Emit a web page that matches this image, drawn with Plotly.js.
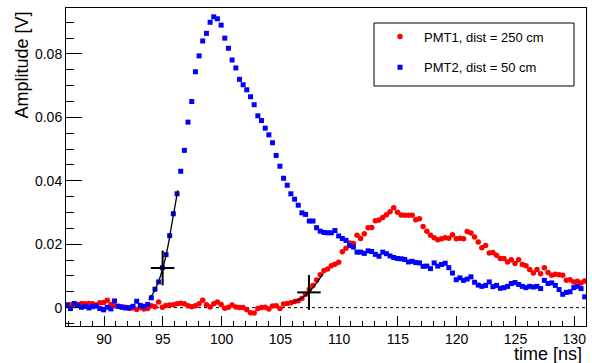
<!DOCTYPE html>
<html>
<head>
<meta charset="utf-8">
<script src="https://cdn.plot.ly/plotly-3.0.1.min.js"></script>
<style>
html,body{margin:0;padding:0;background:#fff;}
#chart{width:592px;height:363px;}
</style>
</head>
<body>
<div id="chart"></div>
<script>
// sampling times [ns]
const time_ns = [
 86.83, 87.14, 87.46, 87.77, 88.08, 88.39, 88.71, 89.02, 89.33, 89.64,
 89.96, 90.27, 90.58, 90.89, 91.21, 91.52, 91.83, 92.14, 92.46, 92.77,
 93.08, 93.39, 93.71, 94.02, 94.33, 94.64, 94.96, 95.27, 95.58, 95.89,
 96.21, 96.52, 96.83, 97.14, 97.46, 97.77, 98.08, 98.39, 98.71, 99.02,
 99.33, 99.64, 99.96, 100.27, 100.58, 100.89, 101.21, 101.52, 101.83, 102.14,
 102.46, 102.77, 103.08, 103.39, 103.71, 104.02, 104.33, 104.64, 104.96, 105.27,
 105.58, 105.89, 106.21, 106.52, 106.83, 107.14, 107.46, 107.77, 108.08, 108.39,
 108.71, 109.02, 109.33, 109.64, 109.96, 110.27, 110.58, 110.89, 111.21, 111.52,
 111.83, 112.14, 112.46, 112.77, 113.08, 113.39, 113.71, 114.02, 114.33, 114.64,
 114.96, 115.27, 115.58, 115.89, 116.21, 116.52, 116.83, 117.14, 117.46, 117.77,
 118.08, 118.39, 118.71, 119.02, 119.33, 119.64, 119.96, 120.27, 120.58, 120.89,
 121.21, 121.52, 121.83, 122.14, 122.46, 122.77, 123.08, 123.39, 123.71, 124.02,
 124.33, 124.64, 124.96, 125.27, 125.58, 125.89, 126.21, 126.52, 126.83, 127.14,
 127.46, 127.77, 128.08, 128.39, 128.71, 129.02, 129.33, 129.64, 129.96, 130.27,
 130.58, 130.89
];

// PMT1, dist = 250 cm (red)
const pmt1_amp = [
 0.0007, 0.0009, 0.0009, 0.0010, 0.0013, 0.0012, 0.0013, 0.0012, 0.0008, 0.0015,
 0.0016, 0.0023, 0.0010, 0.0006, 0.0004, 0.0003, 0.0001, -0.0003, -0.0001, -0.0006,
 0.0000, -0.0004, -0.0003, 0.0006, 0.0003, 0.0018, 0.0001, 0.0007, 0.0008, 0.0009,
 0.0012, 0.0014, 0.0012, 0.0006, 0.0003, 0.0006, 0.0012, 0.0023, 0.0009, 0.0002,
 0.0012, 0.0018, 0.0010, -0.0002, 0.0001, 0.0008, 0.0002, 0.0000, 0.0000, -0.0007,
 -0.0016, -0.0017, -0.0003, 0.0000, 0.0001, -0.0004, 0.0005, 0.0006, -0.0003, 0.0011,
 0.0013, 0.0015, 0.0019, 0.0022, 0.0029, 0.0042, 0.0058, 0.0070, 0.0087, 0.0104,
 0.0117, 0.0122, 0.0132, 0.0137, 0.0143, 0.0176, 0.0187, 0.0204, 0.0202, 0.0228,
 0.0218, 0.0233, 0.0252, 0.0253, 0.0274, 0.0276, 0.0284, 0.0293, 0.0302, 0.0315,
 0.0301, 0.0292, 0.0291, 0.0291, 0.0291, 0.0277, 0.0280, 0.0256, 0.0241, 0.0228,
 0.0220, 0.0214, 0.0217, 0.0220, 0.0219, 0.0230, 0.0217, 0.0219, 0.0217, 0.0240,
 0.0235, 0.0223, 0.0207, 0.0189, 0.0196, 0.0172, 0.0174, 0.0165, 0.0155, 0.0155,
 0.0144, 0.0151, 0.0139, 0.0151, 0.0136, 0.0132, 0.0120, 0.0109, 0.0120, 0.0107,
 0.0126, 0.0111, 0.0102, 0.0105, 0.0104, 0.0102, 0.0086, 0.0088, 0.0081, 0.0083,
 0.0078, 0.0084
];

// PMT2, dist = 50 cm (blue)
const pmt2_amp = [
 0.0009, -0.0003, 0.0013, 0.0006, 0.0001, 0.0004, -0.0001, 0.0003, 0.0005, -0.0003,
 -0.0007, 0.0001, -0.0004, 0.0021, 0.0004, 0.0001, -0.0001, 0.0000, 0.0004, 0.0020,
 0.0007, 0.0004, 0.0010, 0.0031, 0.0058, 0.0081, 0.0126, 0.0167, 0.0227, 0.0296,
 0.0359, 0.0430, 0.0496, 0.0585, 0.0650, 0.0744, 0.0794, 0.0841, 0.0865, 0.0900,
 0.0917, 0.0911, 0.0891, 0.0850, 0.0818, 0.0781, 0.0756, 0.0720, 0.0703, 0.0687,
 0.0665, 0.0640, 0.0605, 0.0590, 0.0566, 0.0545, 0.0520, 0.0480, 0.0446, 0.0408,
 0.0386, 0.0359, 0.0342, 0.0323, 0.0299, 0.0294, 0.0273, 0.0273, 0.0252, 0.0241,
 0.0237, 0.0236, 0.0236, 0.0243, 0.0226, 0.0218, 0.0212, 0.0196, 0.0191, 0.0175,
 0.0175, 0.0171, 0.0179, 0.0177, 0.0168, 0.0162, 0.0175, 0.0170, 0.0163, 0.0158,
 0.0155, 0.0154, 0.0152, 0.0144, 0.0146, 0.0142, 0.0141, 0.0130, 0.0131, 0.0123,
 0.0141, 0.0131, 0.0136, 0.0140, 0.0126, 0.0109, 0.0088, 0.0094, 0.0086, 0.0090,
 0.0097, 0.0080, 0.0071, 0.0067, 0.0070, 0.0081, 0.0066, 0.0070, 0.0061, 0.0063,
 0.0067, 0.0076, 0.0079, 0.0073, 0.0067, 0.0063, 0.0067, 0.0065, 0.0067, 0.0060,
 0.0086, 0.0076, 0.0078, 0.0070, 0.0057, 0.0042, 0.0048, 0.0050, 0.0063, 0.0067,
 0.0060, 0.0034
];

// leading-edge fits
const fit2_t = [93.8, 94.2, 94.6, 95.0, 95.4, 95.8, 96.27];
const fit2_v = [0.0025, 0.0047, 0.0079, 0.0125, 0.0188, 0.0272, 0.0370];
const fit1_t = [106.0, 106.5, 107.0, 107.43, 108.0, 108.65];
const fit1_v = [0.0015, 0.0024, 0.0035, 0.0049, 0.0074, 0.0108];

// timing points (crosses) with their half-widths
const cross_t = [94.98, 107.43];
const cross_v = [0.0125, 0.0048];
const cross_dt = [1.0, 1.0];
const cross_dv = [0.0055, 0.0055];

const legendNames = ['PMT1, dist = 250 cm', 'PMT2, dist = 50 cm'];

const FONT = 'Liberation Sans, Arial, Helvetica, sans-serif';

const traces = [
  {x: time_ns, y: pmt1_amp, type: 'scatter', mode: 'markers', name: legendNames[0],
   legendgroup: 'a', marker: {symbol: 'circle', size: 5.5, color: '#ff0000'}},
  {x: time_ns, y: pmt2_amp, type: 'scatter', mode: 'markers', name: legendNames[1],
   legendgroup: 'b', marker: {symbol: 'square', size: 5, color: '#0000ff'}},
  {x: fit2_t, y: fit2_v, type: 'scatter', mode: 'lines', showlegend: false,
   line: {color: '#000', width: 1.3, shape: 'spline'}},
  {x: fit1_t, y: fit1_v, type: 'scatter', mode: 'lines', showlegend: false,
   line: {color: '#000', width: 1.3, shape: 'spline'}},
  {x: cross_t, y: cross_v, type: 'scatter', mode: 'markers', showlegend: false,
   marker: {size: 2, color: '#000'},
   error_x: {type: 'data', array: cross_dt, symmetric: true, color: '#000', thickness: 2, width: 0},
   error_y: {type: 'data', array: cross_dv, symmetric: true, color: '#000', thickness: 2, width: 0}}
];

const layout = {
  width: 592, height: 363,
  margin: {l: 66, r: 6, t: 8, b: 37},
  paper_bgcolor: '#fff', plot_bgcolor: '#fff',
  font: {family: FONT, color: '#000', size: 14},
  showlegend: true,
  legend: {
    x: 0.5962, y: 0.9575, xanchor: 'left', yanchor: 'top',
    bgcolor: 'rgba(0,0,0,0)', borderwidth: 0,
    font: {family: FONT, size: 13, color: '#000'},
    itemwidth: 38, tracegroupgap: 11, traceorder: 'grouped'
  },
  xaxis: {
    range: [86.76, 131.0], dtick: 5, tick0: 0,
    ticks: 'inside', ticklen: 10, tickwidth: 1, tickcolor: '#000',
    minor: {dtick: 1, ticks: 'inside', ticklen: 5, tickwidth: 1, tickcolor: '#000', showgrid: false},
    showgrid: false, zeroline: false,
    showline: true, mirror: true, linecolor: '#000', linewidth: 1,
    tickfont: {family: FONT, size: 14, color: '#000'}
  },
  yaxis: {
    range: [-0.0058, 0.0945], dtick: 0.02, tick0: 0,
    ticks: 'inside', ticklen: 16, tickwidth: 1, tickcolor: '#000',
    minor: {dtick: 0.005, ticks: 'inside', ticklen: 8, tickwidth: 1, tickcolor: '#000', showgrid: false},
    showgrid: false, zeroline: false,
    showline: true, mirror: true, linecolor: '#000', linewidth: 1,
    tickfont: {family: FONT, size: 14, color: '#000'}
  },
  shapes: [
    {type: 'line', xref: 'paper', yref: 'y', x0: 0, x1: 1, y0: 0, y1: 0,
     line: {color: '#000', width: 1, dash: 'dot'}, layer: 'below'},
    {type: 'rect', xref: 'paper', yref: 'paper', x0: 0.5923, x1: 0.9769, y0: 0.7547, y1: 0.9528,
     line: {color: '#000', width: 1}, fillcolor: '#fff', layer: 'above'}
  ],
  annotations: [
    {text: 'Amplitude [V]', xref: 'paper', yref: 'paper', x: -0.0865, y: 0.9937,
     xanchor: 'center', yanchor: 'top', textangle: -90, showarrow: false,
     font: {family: FONT, size: 18, color: '#000'}},
    {text: 'time [ns]', xref: 'paper', yref: 'paper', x: 0.9942, y: -0.088,
     xanchor: 'right', yanchor: 'middle', showarrow: false, borderpad: 0,
     font: {family: FONT, size: 18, color: '#000'}}
  ]
};

Plotly.newPlot('chart', traces, layout, {displayModeBar: false, staticPlot: true});
</script>
</body>
</html>
